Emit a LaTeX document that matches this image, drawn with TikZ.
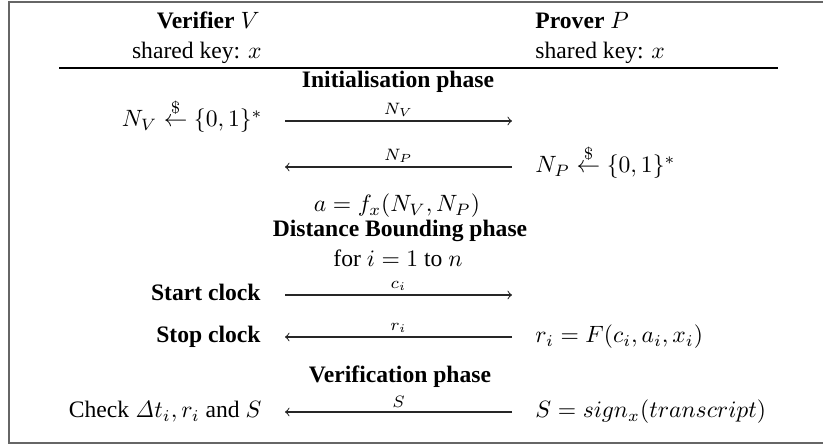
\documentclass[tikz,border=0pt]{standalone}
\usepackage{amsmath}
\usepackage[no-math]{fontspec}
\setmainfont{Liberation Serif}
\begin{document}
\begin{tikzpicture}[x=0.4237pt,y=-0.4237pt,
  lft/.style={anchor=base east,inner sep=0pt},
  rgt/.style={anchor=base west,inner sep=0pt},
  mid/.style={anchor=base,inner sep=0pt},
  msg/.style={draw=black!85,line width=0.45pt,-to},
  lbl/.style={above,inner sep=1.5pt}]
\useasboundingbox (0,0) rectangle (823,444);
% frame
\draw[black!60,line width=0.7pt] (835,2) -- (9,2) -- (9,443) -- (835,443);
% headers
\node[lft] (vtitle) at (260,29) {\textbf{Verifier} $V$};
\node[lft] (vkey) at (262,59) {shared key: $x$};
\node[rgt] (ptitle) at (535,29) {\textbf{Prover} $P$};
\node[rgt] (pkey) at (535,59) {shared key: $x$};
\coordinate (rl) at (59,68);
\coordinate (rr) at (778,68);
\draw[line width=0.45pt] (rl) -- (rr);
% initialisation
\node[mid] (ph1) at (398,88) {\textbf{Initialisation phase}};
\node[lft] (nvgen) at (263,127) {$N_V \overset{\$}{\leftarrow} \{0,1\}^*$};
\coordinate (m1a) at (285,121);
\coordinate (m1b) at (512,121);
\draw[msg] (m1a) -- node[lbl] {$\scriptstyle N_V$} (m1b);
\coordinate (m2a) at (512,167);
\coordinate (m2b) at (285,167);
\draw[msg] (m2a) -- node[lbl] {$\scriptstyle N_P$} (m2b);
\node[rgt] (npgen) at (535,173) {$N_P \overset{\$}{\leftarrow} \{0,1\}^*$};
\node[mid] (sess) at (397,212) {$a = f_x(N_V, N_P)$};
% distance bounding
\node[mid] (ph2) at (400,237) {\textbf{Distance Bounding phase}};
\node[mid] (loop) at (398,267) {for $i = 1$ to $n$};
\node[lft] (start) at (261,301) {\textbf{Start clock}};
\coordinate (m3a) at (285,295);
\coordinate (m3b) at (512,295);
\draw[msg] (m3a) -- node[lbl] {$\scriptstyle c_i$} (m3b);
\node[lft] (stop) at (261,343) {\textbf{Stop clock}};
\coordinate (m4a) at (512,337);
\coordinate (m4b) at (285,337);
\draw[msg] (m4a) -- node[lbl] {$\scriptstyle r_i$} (m4b);
\node[rgt] (resp) at (535,343) {$r_i = F(c_i, a_i, x_i)$};
% verification
\node[mid] (ph3) at (400,383) {\textbf{Verification phase}};
\node[lft] (check) at (262,418) {Check $\mathit{\Delta} t_i, r_i$ and $S$};
\coordinate (m5a) at (512,412);
\coordinate (m5b) at (285,412);
\draw[msg] (m5a) -- node[lbl] {$\scriptstyle S$} (m5b);
\node[rgt] (sign) at (535,418) {$S = sign_x(transcript)$};
\end{tikzpicture}
\end{document}
